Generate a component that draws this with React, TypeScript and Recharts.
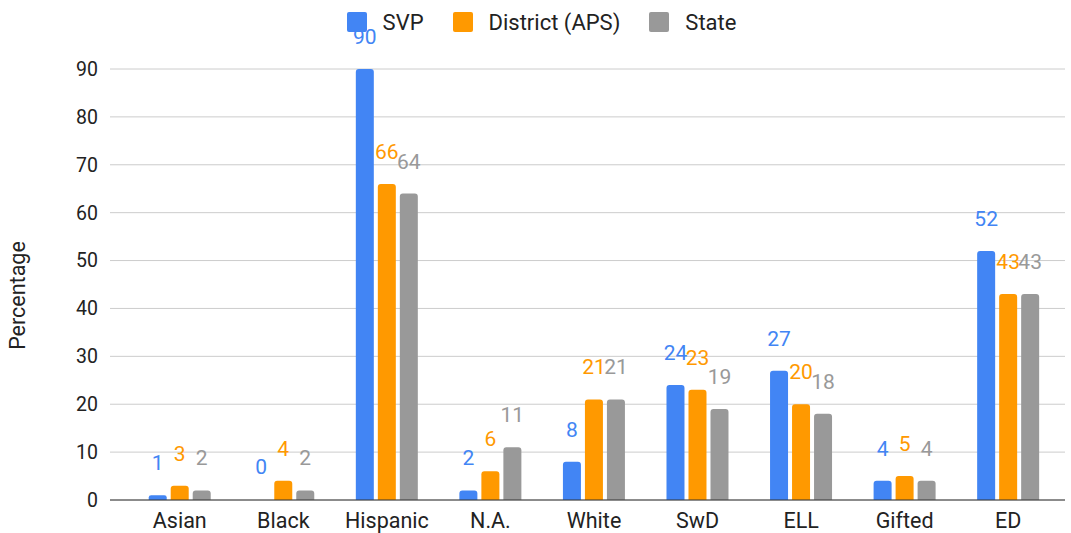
import React from 'react';
import { BarChart, Bar, XAxis, YAxis, CartesianGrid, Legend, LabelList, Rectangle } from 'recharts';

const categories = ['Asian', 'Black', 'Hispanic', 'N.A.', 'White', 'SwD', 'ELL', 'Gifted', 'ED'];
const svp = [1, 0, 90, 2, 8, 24, 27, 4, 52];
const district = [3, 4, 66, 6, 21, 23, 20, 5, 43];
const state = [2, 2, 64, 11, 21, 19, 18, 4, 43];
const yTicks = [0, 10, 20, 30, 40, 50, 60, 70, 80, 90];

const series = [
  { key: 'svp', name: 'SVP', color: '#4285f4' },
  { key: 'district', name: 'District (APS)', color: '#ff9900' },
  { key: 'state', name: 'State', color: '#999999' },
];

const data = categories.map((c, i) => ({
  category: c,
  svp: svp[i],
  district: district[i],
  state: state[i],
}));

const FONT = 'Roboto, Arial, sans-serif';

const renderLegend = () => (
  <div style={{ display: 'flex', justifyContent: 'center', alignItems: 'center', fontFamily: FONT, fontSize: 22, color: '#222', height: 24, paddingLeft: 12 }}>
    {series.map((s, i) => (
      <div key={s.key} style={{ display: 'flex', alignItems: 'center', marginRight: i < series.length - 1 ? 29 : 0 }}>
        <span style={{ display: 'inline-block', width: 20, height: 20, borderRadius: 2, background: s.color, marginRight: 16 }} />
        <span>{s.name}</span>
      </div>
    ))}
  </div>
);

const makeLabel = (color: string) => (props: any) => {
  const { x, y, width, value } = props;
  if (value === undefined || value === null) return null;
  return (
    <text
      x={Number(x) + Number(width) / 2}
      y={Number(y) - 25}
      textAnchor="middle"
      fill={color}
      style={{ fontSize: 21, fontFamily: FONT }}
    >
      {value}
    </text>
  );
};

// zero values get a placeholder size so their label still renders, but no visible bar
const barShape = (key: string) => (props: any) => {
  if (props.payload && props.payload[key] === 0) return <g />;
  return <Rectangle {...props} />;
};

const yLabel = (props: any) => {
  const vb = props.viewBox || {};
  const cx = vb.x + 17;
  const cy = vb.y + vb.height / 2 + 11;
  return (
    <text
      x={cx}
      y={cy}
      transform={`rotate(-90, ${cx}, ${cy})`}
      textAnchor="middle"
      dominantBaseline="central"
      fill="#222"
      style={{ fontSize: 21.5, fontFamily: FONT }}
    >
      Percentage
    </text>
  );
};

const App: React.FC = () => {
  return (
    <div style={{ position: 'absolute', left: 0, top: 0, background: '#fff' }}>
      <BarChart
        width={1071}
        height={533}
        data={data}
        margin={{ top: 45, right: 6, bottom: 3, left: 0 }}
        barCategoryGap="20%"
        barGap={4}
      >
        <CartesianGrid vertical={false} stroke="#cccccc" />
        <Legend verticalAlign="top" height={24} content={renderLegend} wrapperStyle={{ top: 10, left: 0, width: 1071 }} />
        <XAxis
          dataKey="category"
          height={30}
          tickLine={false}
          axisLine={{ stroke: '#333333' }}
          padding={{ left: 18, right: 5 }}
          tick={{ fontSize: 21.5, fill: '#222', fontFamily: FONT }}
          tickMargin={7}
          interval={0}
        />
        <YAxis
          width={110}
          domain={[0, 90]}
          ticks={yTicks}
          axisLine={false}
          tickLine={false}
          tickSize={0}
          tickMargin={12}
          tick={{ fontSize: 19.5, fill: '#222', fontFamily: FONT }}
          label={{ content: yLabel }}
        />
        {series.map((s) => (
          <Bar
            key={s.key}
            dataKey={s.key}
            name={s.name}
            fill={s.color}
            radius={[3, 3, 0, 0]}
            minPointSize={1}
            shape={barShape(s.key)}
            isAnimationActive={false}
          >
            <LabelList dataKey={s.key} content={makeLabel(s.color)} />
          </Bar>
        ))}
      </BarChart>
    </div>
  );
};

export default App;
